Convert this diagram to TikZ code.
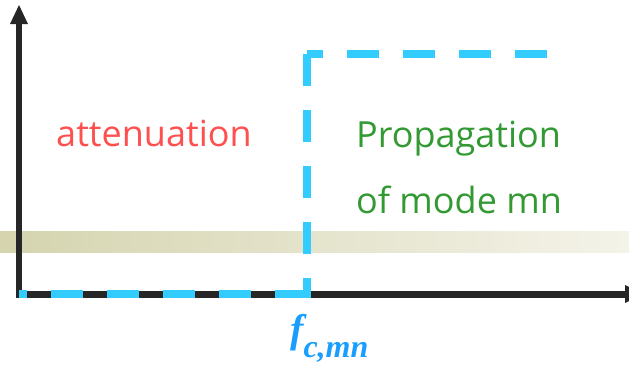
\documentclass[tikz,border=0pt]{standalone}
\usepackage{fontspec}
\newfontfamily\comicfont{Open Sans}
\newfontfamily\tnrfont{Liberation Serif}
\definecolor{axiscol}{RGB}{38,38,38}
\definecolor{dashcol}{RGB}{51,204,255}
\definecolor{bandL}{RGB}{213,212,175}
\definecolor{bandR}{RGB}{244,243,233}
\definecolor{attcol}{RGB}{255,80,80}
\definecolor{propcol}{RGB}{51,153,51}
\definecolor{fcol}{RGB}{25,158,255}
\tikzset{
  axisline/.style={draw=axiscol},
  axishead/.style={fill=axiscol},
  cutoff/.style={draw=dashcol, line width=8pt, dash pattern=on 32pt off 24pt},
  comictext/.style={font=\comicfont\fontsize{36}{40}\selectfont, inner sep=0pt},
}
\begin{document}
\begin{tikzpicture}[x=1pt,y=-1pt]
\useasboundingbox (0,0) rectangle (629,368);
\clip (0,0) rectangle (629,368);
% gradient band
\shade[left color=bandL, right color=bandR] (0,231) rectangle (629,252.7);
% axes
\coordinate (origin) at (19,294);
\coordinate (ytop) at (19,22);
\coordinate (xstart) at (16,294);
\coordinate (xend) at (626,294);
\draw[axisline, line width=7pt] (xstart) -- (xend);
\draw[axisline, line width=6pt] (origin) -- (ytop);
\fill[axishead] (10,24) -- (28,24) -- (19,5) -- cycle;
\fill[axishead] (625,285) -- (625,303) -- (644,294) -- cycle;
% dashed cutoff curve
\coordinate (topright) at (547,54);
\coordinate (corner1) at (307,54);
\coordinate (corner2b) at (307,298);
\coordinate (corner2) at (307,294);
\coordinate (leftend) at (19,294);
\draw[cutoff] (topright) -- (corner1);
\draw[cutoff] (corner1) -- (corner2b);
\draw[cutoff] (corner2) -- (leftend);
% labels
\node[comictext, text=attcol, anchor=base] (att) at (154,146.5) {attenuation};
\node[comictext, text=propcol, anchor=base west] (prop) at (356,147) {Propagation};
\node[comictext, text=propcol, anchor=base west] (mode) at (356,213) {of mode mn};
\node[inner sep=0pt, anchor=base west, text=fcol] (fc) at (290,342)
  {\tnrfont\bfseries\itshape\fontsize{40}{40}\selectfont f\raisebox{-15pt}{\fontsize{32}{32}\selectfont c,mn}};
\end{tikzpicture}
\end{document}
